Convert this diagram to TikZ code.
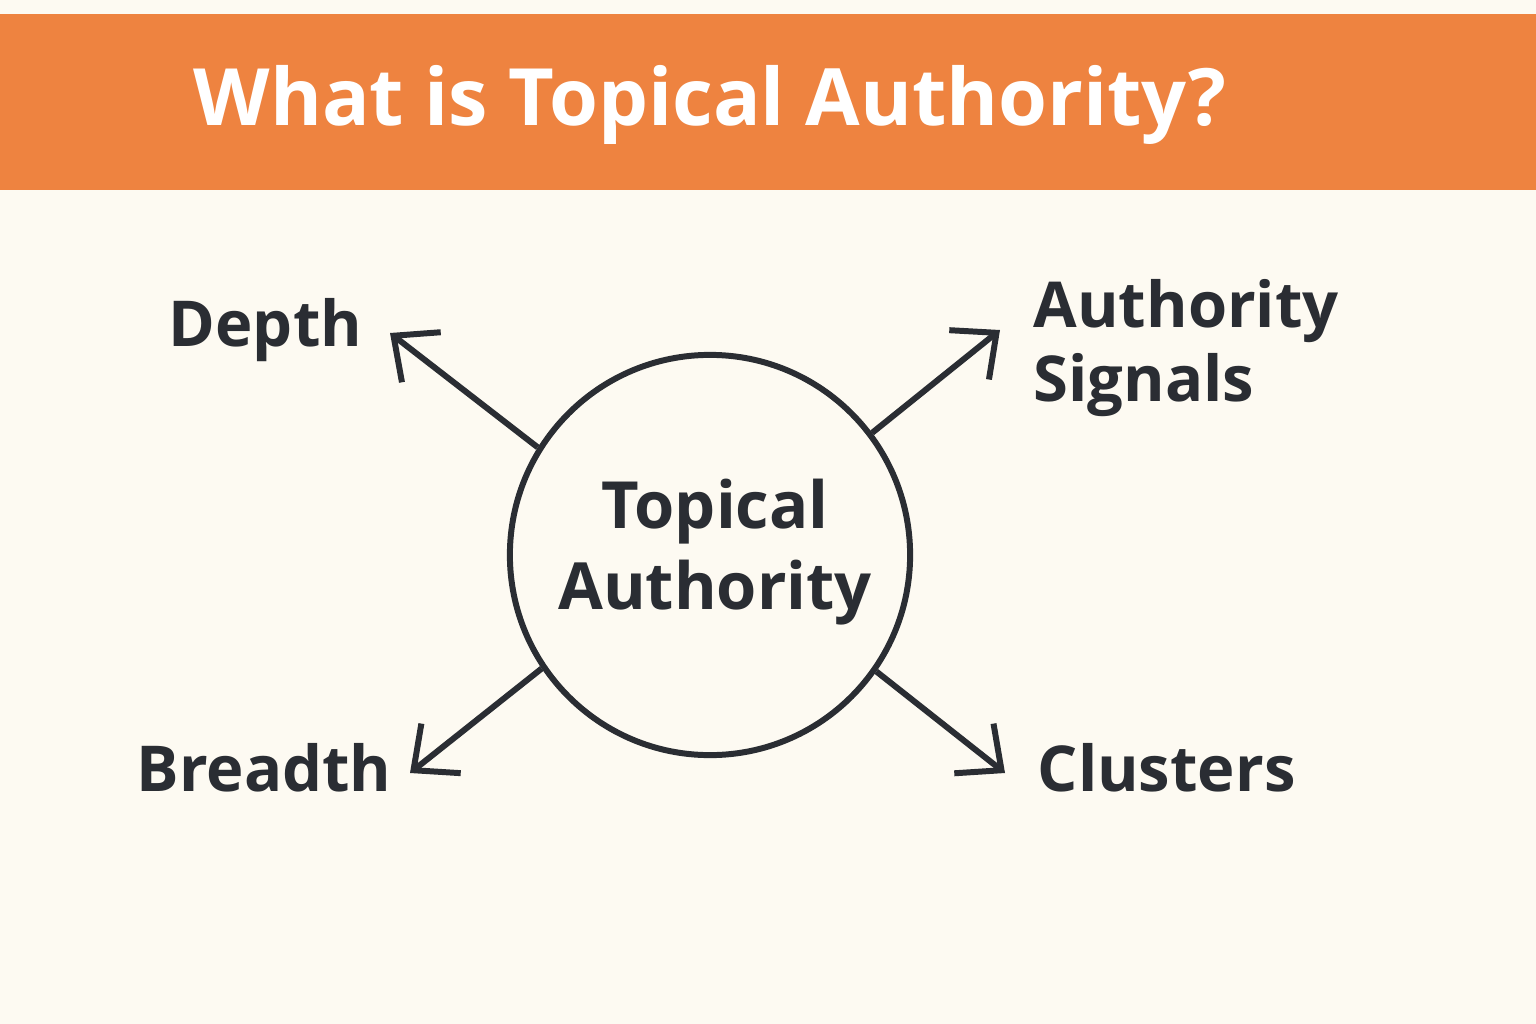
\documentclass[tikz,border=0pt]{standalone}
\usepackage{fontspec}
\setmainfont{Open Sans}
\usetikzlibrary{arrows.meta}
\definecolor{bg}{HTML}{FDFAF2}
\definecolor{band}{HTML}{EE8340}
\definecolor{ink}{HTML}{2A2D33}
\begin{document}
\begin{tikzpicture}[x=0.01cm,y=-0.01cm,
  lbl/.style={font=\fontsize{18}{21}\selectfont\bfseries, text=ink, inner sep=0pt},
  conn/.style={draw=ink, line width=1.7pt, -{Straight Barb[length=10pt,width=18pt,line width=1.7pt]}}]
\fill[bg] (0,0) rectangle (1536,1024);
\useasboundingbox (0,0) rectangle (1536,1024);
\fill[band] (0,14) rectangle (1536,190);
\node[font=\fontsize{22.5}{26}\selectfont\bfseries, text=white, inner sep=0pt] (title) at (710,105) {What is Topical Authority?};
\node[circle, draw=ink, line width=1.7pt, inner sep=0pt, minimum size=4cm] (c) at (710,555) {};
\node[font=\fontsize{18.5}{23}\selectfont\bfseries, text=ink, inner sep=0pt, align=center] (ct) at (715,552) {Topical\\Authority};
\node[lbl, anchor=west] (depth) at (168,330) {Depth};
\node[lbl, anchor=west, align=left] (auth) at (1033,348) {Authority\\Signals};
\node[lbl, anchor=west] (breadth) at (136,768) {Breadth};
\node[lbl, anchor=west] (clusters) at (1037,768) {Clusters};
\coordinate (ed) at (390,333);
\coordinate (ea) at (1000,330);
\coordinate (eb) at (410,773);
\coordinate (ec) at (1005,773);
\draw[conn] (c.148) -- (ed);
\draw[conn] (c.37) -- (ea);
\draw[conn] (c.214) -- (eb);
\draw[conn] (c.325) -- (ec);
\end{tikzpicture}
\end{document}
